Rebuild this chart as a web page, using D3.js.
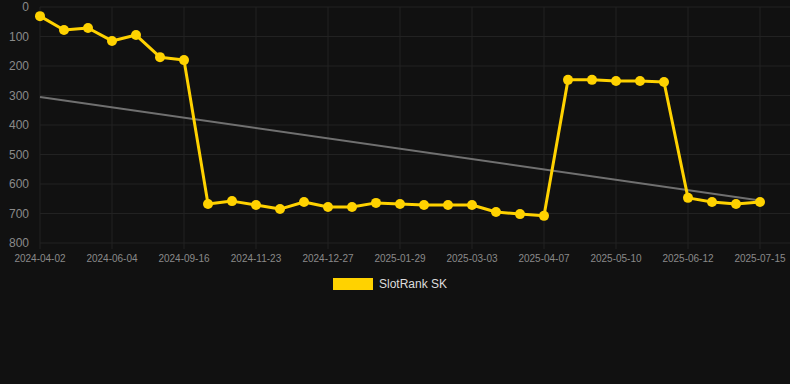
<!DOCTYPE html>
<html>
<head>
<meta charset="utf-8">
<script src="https://cdn.jsdelivr.net/npm/d3@7"></script>
<style>
body { margin: 0; background: #111111; }
svg { display: block; font-family: "Liberation Sans", Arial, sans-serif; }
</style>
</head>
<body>
<svg width="790" height="384"></svg>
<script>
// rank per snapshot (lower = better)
var ranks = [31, 78, 71, 115, 95, 170, 180, 668, 658, 671, 685, 661, 678, 678, 664,
  668, 671, 671, 671, 695, 702, 708, 247, 247, 251, 251, 254, 647, 661, 668, 661];
var tickLabels = ["2024-04-02", "2024-06-04", "2024-09-16", "2024-11-23", "2024-12-27",
  "2025-01-29", "2025-03-03", "2025-04-07", "2025-05-10", "2025-06-12", "2025-07-15"];
var yTicks = [0, 100, 200, 300, 400, 500, 600, 700, 800];
var trend = [305, 656]; // trend line start / end
var seriesName = "SlotRank SK";

var width = 790, height = 384;
var margin = {top: 7, right: 30, bottom: 141, left: 40};

var svg = d3.select("svg");

var idx = d3.range(ranks.length);
var x = d3.scalePoint()
  .domain(idx)
  .range([margin.left, width - margin.right]);

var y = d3.scaleLinear()
  .domain([0, 800])
  .range([margin.top, height - margin.bottom]);

// grid
svg.append("g")
  .selectAll("line")
  .data(yTicks)
  .join("line")
  .attr("x1", margin.left).attr("x2", width)
  .attr("y1", d => y(d)).attr("y2", d => y(d))
  .attr("stroke", "#222222").attr("stroke-width", 1);

var tickIdx = idx.filter(i => i % 3 == 0);
svg.append("g")
  .selectAll("line")
  .data(tickIdx)
  .join("line")
  .attr("x1", d => x(d)).attr("x2", d => x(d))
  .attr("y1", margin.top).attr("y2", y(800) + 6)
  .attr("stroke", "#222222").attr("stroke-width", 1);

// y labels
svg.append("g")
  .selectAll("text")
  .data(yTicks)
  .join("text")
  .attr("x", 29).attr("y", d => y(d))
  .attr("dy", "0.35em")
  .attr("text-anchor", "end")
  .attr("fill", "#8a8a8a")
  .attr("font-size", 12)
  .text(d => d);

// x labels
svg.append("g")
  .selectAll("text")
  .data(tickIdx)
  .join("text")
  .attr("x", d => x(d)).attr("y", y(800) + 19)
  .attr("text-anchor", "middle")
  .attr("fill", "#8a8a8a")
  .attr("font-size", 10)
  .text((d, i) => tickLabels[i]);

// trend
svg.append("line")
  .attr("x1", x(0)).attr("x2", x(ranks.length - 1))
  .attr("y1", y(trend[0])).attr("y2", y(trend[1]))
  .attr("stroke", "#707070").attr("stroke-width", 2);

// series
var line = d3.line().x((d, i) => x(i)).y(d => y(d));
svg.append("path")
  .datum(ranks)
  .attr("d", line)
  .attr("fill", "none")
  .attr("stroke", "#ffd200")
  .attr("stroke-width", 3)
  .attr("stroke-linejoin", "round");

svg.append("g")
  .selectAll("circle")
  .data(ranks)
  .join("circle")
  .attr("cx", (d, i) => x(i))
  .attr("cy", d => y(d))
  .attr("r", 5)
  .attr("fill", "#ffd200");

// legend
svg.append("rect")
  .attr("x", 333).attr("y", 278)
  .attr("width", 40).attr("height", 12)
  .attr("fill", "#ffd200");
svg.append("text")
  .attr("x", 379).attr("y", 284)
  .attr("dy", "0.35em")
  .attr("fill", "#dddddd")
  .attr("font-size", 12)
  .text(seriesName);
</script>
</body>
</html>
